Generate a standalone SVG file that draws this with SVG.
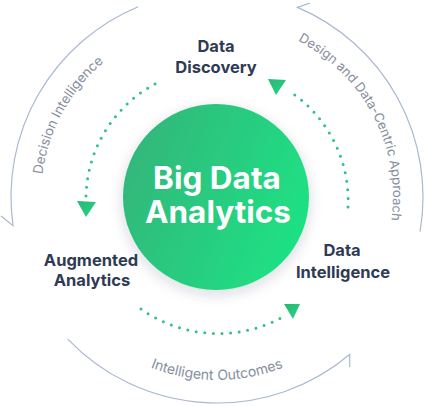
<svg xmlns="http://www.w3.org/2000/svg" xmlns:xlink="http://www.w3.org/1999/xlink" width="425" height="406" viewBox="0 0 425 406">
<defs>
<style>
.lbl{font-family:Inter,"Liberation Sans",sans-serif;font-weight:700;font-size:16.5px;fill:#2f3a55;text-anchor:middle}
.core{font-family:Inter,"Liberation Sans",sans-serif;font-weight:700;font-size:31.5px;fill:#ffffff;text-anchor:middle}
.arc{fill:none;stroke:#a9b8cf;stroke-width:1.2;stroke-linejoin:miter}
.arct{font-family:Inter,"Liberation Sans",sans-serif;font-weight:400;font-size:13.4px;fill:#858e9e}
.dots{fill:none;stroke:#2fc280;stroke-width:3;stroke-linecap:round;stroke-dasharray:0 8.6}
.head{fill:url(#gHead)}
</style>
<linearGradient id="gCore" x1="0" y1="0.3" x2="1" y2="0.7">
<stop offset="0" stop-color="#33b67b"/>
<stop offset="1" stop-color="#1de384"/>
</linearGradient>
<linearGradient id="gHead" x1="0" y1="0" x2="1" y2="1">
<stop offset="0" stop-color="#2ab476"/>
<stop offset="1" stop-color="#22d981"/>
</linearGradient>
<filter id="shadow" x="-30%" y="-30%" width="160%" height="160%">
<feDropShadow dx="0" dy="4" stdDeviation="7" flood-color="#1b2a40" flood-opacity="0.16"/>
</filter>
<path id="tpLeft" d="M53.02,260.94 A176,176 0 0 1 182.52,24.41"/>
<path id="tpRight" d="M255.09,25.17 A176,176 0 0 1 379.6,264.35"/>
<path id="tpBottom" d="M76.82,314.63 A183,183 0 0 0 357.18,314.63"/>
</defs>
<rect width="425" height="406" fill="#ffffff"/>

<g id="outer-cycle">
<path class="arc" d="M138.17,6.68 A206,206 0 0 0 13,225.67 L1,216"/>
<path class="arc" d="M67.81,339.06 A206,206 0 0 0 349.68,354.57 L349.68,367"/>
<path class="arc" d="M420.06,231.71 A206,206 0 0 0 297.49,7.38 L310,3"/>
<text class="arct"><textPath xlink:href="#tpLeft" href="#tpLeft" startOffset="50%" text-anchor="middle">Decision Intelligence</textPath></text>
<text class="arct" style="font-size:13px"><textPath xlink:href="#tpRight" href="#tpRight" startOffset="50%" text-anchor="middle">Design and Data-Centric Approach</textPath></text>
<text class="arct" style="font-size:14px"><textPath xlink:href="#tpBottom" href="#tpBottom" startOffset="50%" text-anchor="middle">Intelligent Outcomes</textPath></text>
</g>

<g id="connectors">
<path class="dots" d="M155,84 A131,131 0 0 0 86,196"/>
<path class="head" d="M77,201 L96,202 L86,217 Z"/>
<path class="dots" d="M141,309 A134,134 0 0 0 281,318"/>
<path class="head" d="M284,304 L300,304 L293,319 Z"/>
<path class="dots" d="M348,207 A131,131 0 0 0 289,91"/>
<path class="head" d="M268,79 L286,80 L276,95 Z"/>
</g>

<g id="big-data-analytics">
<circle cx="216" cy="197" r="93" fill="url(#gCore)" filter="url(#shadow)"/>
<text class="core" x="217" y="189">Big Data</text>
<text class="core" x="218" y="223">Analytics</text>
</g>

<g id="data-discovery">
<text class="lbl" x="216" y="52">Data</text>
<text class="lbl" x="216" y="73">Discovery</text>
</g>

<g id="augmented-analytics">
<text class="lbl" x="91" y="266">Augmented</text>
<text class="lbl" x="92" y="286">Analytics</text>
</g>

<g id="data-intelligence">
<text class="lbl" x="342" y="256">Data</text>
<text class="lbl" x="343" y="278">Intelligence</text>
</g>
</svg>
